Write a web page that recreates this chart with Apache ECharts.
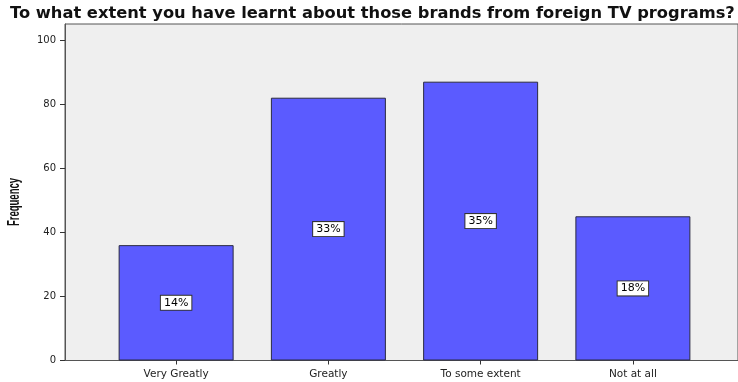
<!DOCTYPE html>
<html>
<head>
<meta charset="utf-8">
<script src="https://cdn.jsdelivr.net/npm/echarts@6/dist/echarts.min.js"></script>
<style>
  html, body { margin: 0; padding: 0; background: #fff; }
  #chart { width: 738px; height: 382px; }
</style>
</head>
<body>
<div id="chart"></div>
<script>
// Survey responses: how much respondents learnt about brands from foreign TV
const categories = ['Very Greatly', 'Greatly', 'To some extent', 'Not at all'];
const frequencies = [36, 82, 87, 45];
const yTicks = [0, 20, 40, 60, 80, 100];

const total = frequencies.reduce((a, b) => a + b, 0);
const percentLabels = frequencies.map(v => Math.round(v / total * 100) + '%');

const wideFont = 'DejaVu Sans, Verdana, sans-serif';
const chart = echarts.init(document.getElementById('chart'));

chart.setOption({
  backgroundColor: '#ffffff',
  animation: false,
  title: {
    text: 'To what extent you have learnt about those brands from foreign TV programs?',
    left: 5,
    top: 1,
    textStyle: { fontFamily: wideFont, fontSize: 16.3, fontWeight: 'bold', color: '#111' }
  },
  // condensed, rotated axis title
  graphic: [{
    type: 'text',
    x: 14,
    y: 202,
    rotation: Math.PI / 2,
    scaleX: 0.56,
    style: {
      text: 'Frequency',
      font: 'bold 17px "Liberation Sans", Arial, sans-serif',
      fill: '#111',
      align: 'center',
      verticalAlign: 'middle'
    }
  }],
  grid: [
    // plot frame with the frequency axis
    { left: 65, width: 678, top: 24, height: 336.5, show: true,
      backgroundColor: '#efefef', borderColor: '#555', borderWidth: 1 },
    // band area holding the bars
    { left: 100, width: 609, top: 24, height: 336.5 }
  ],
  xAxis: [
    { type: 'value', gridIndex: 0, show: false, min: 0, max: 1 },
    {
      type: 'category', gridIndex: 1, data: categories,
      axisLine: { show: true, lineStyle: { color: '#555', width: 1 } },
      axisTick: { show: true, alignWithLabel: true, length: 4, lineStyle: { color: '#333' } },
      axisLabel: { fontFamily: wideFont, fontSize: 10.5, color: '#222', margin: 8 },
      splitLine: { show: false }
    }
  ],
  yAxis: [
    {
      type: 'value', gridIndex: 0, min: 0, max: 105,
      axisLine: { show: true, lineStyle: { color: '#555' } },
      axisTick: { show: true, length: 5, customValues: yTicks, lineStyle: { color: '#333' } },
      axisLabel: { fontFamily: wideFont, fontSize: 10, color: '#222', margin: 9, customValues: yTicks },
      splitLine: { show: false }
    },
    { type: 'value', gridIndex: 1, min: 0, max: 105, show: false }
  ],
  series: [{
    type: 'bar',
    xAxisIndex: 1,
    yAxisIndex: 1,
    data: frequencies,
    barWidth: 115,
    itemStyle: { color: '#5b5bff', borderColor: '#2a2a40', borderWidth: 1 },
    label: {
      show: true,
      position: 'inside',
      formatter: p => percentLabels[p.dataIndex],
      fontFamily: wideFont,
      fontSize: 11,
      color: '#000',
      backgroundColor: '#ffffff',
      borderColor: '#333',
      borderWidth: 1,
      padding: [2, 3, 1, 3]
    }
  }]
});
</script>
</body>
</html>
